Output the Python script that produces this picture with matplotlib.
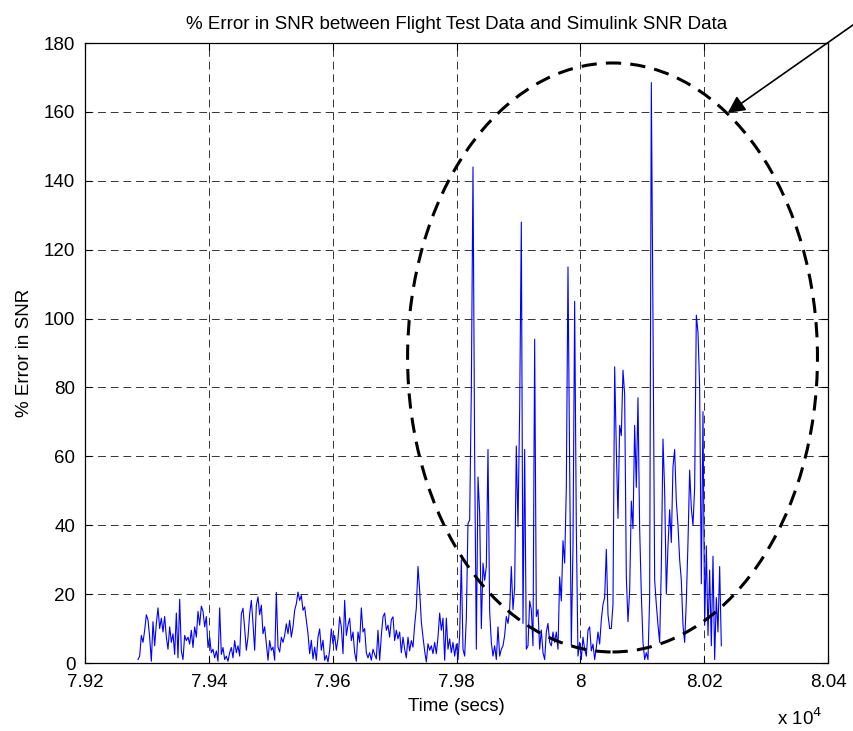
import numpy as np
import matplotlib
matplotlib.use("Agg")
import matplotlib.pyplot as plt
from matplotlib.patches import Ellipse

# ---------------- data ----------------
t_start = 79285.6
t_end = 80227.7
err_pct = [
    # 79286 .. 79450
    1, 2, 8, 6, 9.5, 14, 12.5, 7.5, 0.5, 12, 5, 11.5, 16, 10, 13, 9, 13.5, 7.5, 4, 10.5,
    6, 8.5, 2.5, 14.5, 1.5, 18.5, 3.5, 1, 8, 6.5, 7.5, 5.5, 9.5, 4.5, 10.5, 7.5, 15, 11, 16.5, 15,
    10.5, 13.5, 4.5, 7.5, 3, 4, 1.5, 3.5, 0.5, 16, 2.5, 4.5, 1, 2, 0.5, 3, 4.5, 1.5, 6.5, 3,
    5, 2,
    # 79452 .. 79617
    14.3, 15.9, 10, 3.7, 7.5, 14.3, 18.2, 11.4, 3.7, 16.7, 19.2, 14, 16.8, 8.5, 10.5, 5.6, 0.8, 6.5,
    3.7, 4.6, 0.8, 20.5, 4.6, 3.2, 7.5, 6, 8, 11.4, 8.5, 12.4, 7.5, 10.5, 15.3, 17.2, 20.6, 18.2,
    19.6, 15.3, 16.3, 12.4, 8.5, 2.7, 6.6, 1.2, 4.6, 0.8, 7.5, 9.9, 3.7, 6.6, 0.8, 2.2, 0.3, 3.7,
    9.9, 5.6, 8, 3.7, 7.1, 13.4, 10.5, 2.7,
    # 79620 .. 79781
    18.2, 8, 11, 13, 6.5, 9, 3, 0.5, 9, 6, 16, 9, 10, 3, 1.5, 3, 0.8, 4, 2.5, 1.2,
    9.5, 0.8, 8, 13.4, 14.5, 9.5, 11, 7.5, 12.6, 13.4, 6.5, 9.5, 7, 9, 3, 7.5, 4, 1.5, 7.5, 3.5,
    6.5, 4.6, 11, 16, 28, 21, 12, 7.5, 3.5, 0.3, 5.6, 3.7, 5, 2.7, 6, 2.7, 7.5, 14.5, 9.5, 13,
    0.8,
    # 79784 .. 79966
    13, 4, 7, 3, 6, 2, 5.5, 1, 8, 30, 4, 2, 13, 40.5, 41.5, 79, 144, 60, 4, 54,
    43.5, 10, 29, 24, 28, 62, 15, 6, 2, 5, 1, 10.5, 2, 4, 5, 8, 13.5, 11.5, 15.5, 28,
    15.5, 22, 63, 39.6, 73.5, 128, 11.5, 62, 4, 5, 18, 15.5, 5, 94, 13.5, 15.5, 4, 9.6, 3, 1,
    9, 11.5, 6, 5, 9, 6, 9, 4, 25,
    # 79969 .. 80228
    18, 35.5, 29, 51, 115, 57, 5, 34, 105, 39, 2, 6, 1, 7.5, 4, 2, 9.5, 10.5, 3.5, 5.5,
    1, 4.5, 9, 5.5, 12.5, 17, 19, 33, 14, 10, 10, 17, 86, 62, 42, 69, 66, 85, 78, 25,
    12, 21, 47, 39, 69, 51, 77, 39, 20, 6, 1, 3, 1, 19, 168.5, 99, 24, 17, 11, 6,
    28, 65, 50, 20, 34, 44.5, 35, 57, 62, 47, 40, 30, 24, 11, 6, 18, 35, 56, 45, 40,
    51, 101, 96, 80, 23, 73, 11, 34, 8, 27, 5, 31, 1, 19, 9, 28, 5,
]
time_s = np.linspace(t_start, t_end, len(err_pct))

x_ticks = [79200, 79400, 79600, 79800, 80000, 80200, 80400]
x_tick_labels = ["7.92", "7.94", "7.96", "7.98", "8", "8.02", "8.04"]
y_ticks = [0, 20, 40, 60, 80, 100, 120, 140, 160, 180]

# highlight ellipse (data units) and arrow target
ell_center = (80052.0, 88.7)
ell_width = 662.0
ell_height = 171.0
arrow_tip = (80238.0, 159.7)

# ---------------- style ----------------
plt.rcParams["font.family"] = ["Liberation Sans", "DejaVu Sans"]
fs = 13.5

fig = plt.figure(figsize=(8.54, 7.31), dpi=100)
ax = fig.add_axes([85 / 854, 68 / 731, 743 / 854, 620 / 731])

ax.plot(time_s, err_pct, color="#0000FF", lw=0.8)

ax.set_xlim(79200, 80400)
ax.set_ylim(0, 180)
ax.set_xticks(x_ticks)
ax.set_xticklabels(x_tick_labels)
ax.set_yticks(y_ticks)
ax.tick_params(direction="in", top=True, right=True, length=5, width=0.8,
               labelsize=fs, colors="k")
ax.tick_params(axis="x", pad=8)
ax.tick_params(axis="y", pad=7)
for s in ax.spines.values():
    s.set_linewidth(0.9)
    s.set_color("k")
ax.grid(True, color="#333333", lw=0.7, linestyle=(0, (8, 5)))

ell = Ellipse(ell_center, ell_width, ell_height, fill=False, edgecolor="k",
              lw=2.2, linestyle=(0, (5, 3)), zorder=5)
ax.add_patch(ell)

ax.annotate("", xy=arrow_tip, xycoords="data",
            xytext=(1.01, 0.975), textcoords="figure fraction",
            arrowprops=dict(arrowstyle="-|>", color="k", lw=1.2, mutation_scale=26,
                            shrinkA=0, shrinkB=0),
            annotation_clip=False)

ax.set_title("% Error in SNR between Flight Test Data and Simulink SNR Data",
             fontsize=fs, pad=10)
ax.set_xlabel("Time (secs)", fontsize=fs, labelpad=5)
ax.set_ylabel("% Error in SNR", fontsize=fs, labelpad=8)
fig.text(800 / 854, 1 - 718 / 731, r"x 10$^{4}$", fontsize=fs, ha="center", va="center")

fig.savefig("out.png", dpi=100)
